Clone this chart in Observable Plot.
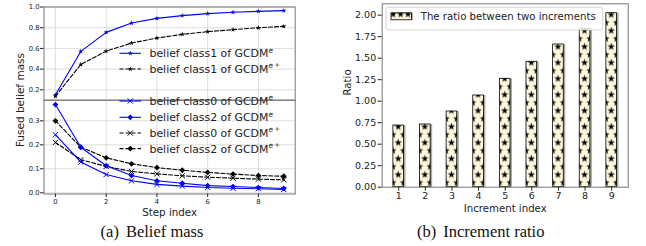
<!DOCTYPE html>
<html><head><meta charset="utf-8">
<script src="https://cdn.jsdelivr.net/npm/d3@7"></script>
<script src="https://cdn.jsdelivr.net/npm/@observablehq/plot@0.6"></script>
<style>
body{margin:0;background:#fff;}
#wrap{position:relative;width:646px;height:246px;overflow:hidden;font-family:"DejaVu Sans",sans-serif;}
#wrap svg{position:absolute;max-width:none;}
</style></head><body>
<div id="wrap"></div>
<script>
// ---- data: (a) Belief mass ----
const steps = [0, 1, 2, 3, 4, 5, 6, 7, 8, 9];
const class1E  = [0.152, 0.571, 0.755, 0.845, 0.890, 0.917, 0.936, 0.949, 0.958, 0.965];
const class1EP = [0.138, 0.445, 0.574, 0.652, 0.700, 0.736, 0.762, 0.781, 0.800, 0.813];
const class0E  = [0.242, 0.128, 0.076, 0.050, 0.035, 0.028, 0.022, 0.019, 0.017, 0.014];
const class2E  = [0.368, 0.190, 0.113, 0.072, 0.050, 0.040, 0.030, 0.026, 0.022, 0.018];
const class0EP = [0.210, 0.138, 0.110, 0.089, 0.079, 0.071, 0.065, 0.061, 0.057, 0.054];
const class2EP = [0.300, 0.190, 0.146, 0.121, 0.105, 0.094, 0.085, 0.078, 0.072, 0.069];
const topTicks = [0.2, 0.4, 0.6, 0.8, 1.0];
const bottomTicks = [0.0, 0.1, 0.2, 0.3];
const stepTicks = [0, 2, 4, 6, 8];

// ---- data: (b) Increment ratio ----
const incIndex = [1, 2, 3, 4, 5, 6, 7, 8, 9];
const ratios = [0.717, 0.729, 0.880, 1.066, 1.260, 1.458, 1.659, 1.842, 2.023];
const ratioTicks = [0, 0.25, 0.5, 0.75, 1.0, 1.25, 1.5, 1.75, 2.0];

// ---- texts ----
const legendLabels = ["belief class1 of GCDM", "belief class1 of GCDM", "belief class0 of GCDM", "belief class2 of GCDM", "belief class0 of GCDM", "belief class2 of GCDM"];
const legendSups = ["e", "e+", "e", "e", "e+", "e+"];
const barLegend = "The ratio between two increments";

const BLUE = "#0000ff";
const rows = arr => steps.map((s, i) => ({step: s, v: arr[i]}));
const wrap = document.getElementById("wrap");
const baseStyle = {background: "transparent", overflow: "visible", fontFamily: "DejaVu Sans", color: "#222"};
const gridStyle = {stroke: "#d6d6d6", strokeOpacity: 1, strokeWidth: 0.8};
const SYM = {star: 1.6, times: 2.5, diamond2: 2.6};

function series(arr, color, dash, symbol) {
  const d = rows(arr);
  const marks = [Plot.line(d, {x: "step", y: "v", stroke: color, strokeWidth: 1.1, strokeDasharray: dash})];
  if (symbol === "times") marks.push(Plot.dot(d, {x: "step", y: "v", symbol, r: SYM[symbol], stroke: color, fill: "none", strokeWidth: 1}));
  else marks.push(Plot.dot(d, {x: "step", y: "v", symbol, r: SYM[symbol], fill: color, stroke: "none"}));
  return marks;
}

// top panel
const topPanel = Plot.plot({
  width: 300, height: 100,
  marginLeft: 43.5, marginRight: 5.3, marginTop: 6.5, marginBottom: 0.3,
  style: baseStyle,
  x: {domain: [-0.45, 9.45], axis: null},
  y: {domain: [0.1, 1.0], axis: null},
  marks: [
    Plot.gridX({ticks: stepTicks, ...gridStyle}),
    Plot.gridY({ticks: topTicks, ...gridStyle}),
    ...series(class1E, BLUE, null, "star"),
    ...series(class1EP, "black", "4,2", "star"),
    Plot.frame({stroke: "#777"}),
    Plot.axisY({ticks: topTicks, tickFormat: ".1f", tickSize: 3.5, tickPadding: 1, fontSize: 6.8, label: null})
  ]
});
topPanel.style.left = "0px"; topPanel.style.top = "0px";
wrap.appendChild(topPanel);

// bottom panel
const bottomPanel = Plot.plot({
  width: 300, height: 140,
  marginLeft: 43.5, marginRight: 5.3, marginTop: 9.7, marginBottom: 36.5,
  style: baseStyle,
  x: {domain: [-0.45, 9.45], axis: null},
  y: {domain: [-0.005, 0.386], axis: null},
  marks: [
    Plot.gridX({ticks: stepTicks, ...gridStyle}),
    Plot.gridY({ticks: bottomTicks, ...gridStyle}),
    ...series(class0EP, "black", "4,2", "times"),
    ...series(class2EP, "black", "4,2", "diamond2"),
    ...series(class0E, BLUE, null, "times"),
    ...series(class2E, BLUE, null, "diamond2"),
    Plot.frame({stroke: "#777"}),
    Plot.axisY({ticks: bottomTicks, tickFormat: ".1f", tickSize: 3.5, tickPadding: 1, fontSize: 6.8, label: null}),
    Plot.axisX({ticks: stepTicks, tickFormat: "d", tickSize: 3.5, tickPadding: 1.5, fontSize: 6.8, label: null}),
    Plot.text(["Step index"], {frameAnchor: "bottom", dy: 19.2, fontSize: 10.3, lineAnchor: "middle", fill: "#222"}),
    Plot.text(["Fused belief mass"], {frameAnchor: "left", rotate: -90, dx: -23.5, fontSize: 10.5, lineAnchor: "middle", fill: "#222"})
  ]
});
bottomPanel.style.left = "0px"; bottomPanel.style.top = "90px";
wrap.appendChild(bottomPanel);

// right bar chart
const barRows = incIndex.map((k, i) => ({k, v: ratios[i]}));
const barChart = Plot.plot({
  width: 316, height: 220,
  marginLeft: 51.7, marginRight: 18.3, marginTop: 3.3, marginBottom: 33.3,
  style: baseStyle,
  x: {domain: [0.38, 9.62], axis: null},
  y: {domain: [0, 2.132], axis: null},
  marks: [
    Plot.rectY(barRows, {x1: d => d.k - 0.2, x2: d => d.k + 0.2, y: "v", fill: "#a9a9a9", dx: 2}),
    Plot.rectY(barRows, {x1: d => d.k - 0.2, x2: d => d.k + 0.2, y: "v", fill: "url(#starHatch)", stroke: "black", strokeWidth: 0.8}),
    Plot.frame({stroke: "#777"}),
    Plot.axisY({ticks: ratioTicks, tickFormat: ".2f", tickSize: 4, tickPadding: 2, fontSize: 9.5, label: null}),
    Plot.axisX({ticks: incIndex, tickFormat: "d", tickSize: 4, tickPadding: 1.5, fontSize: 9.5, label: null}),
    Plot.text(["Increment index"], {frameAnchor: "bottom", dy: 21.6, fontSize: 10.2, lineAnchor: "middle", fill: "#222"}),
    Plot.text(["Ratio"], {frameAnchor: "left", rotate: -90, dx: -34.7, fontSize: 10.2, lineAnchor: "middle", fill: "#222"})
  ]
});
barChart.style.left = "330px"; barChart.style.top = "0px";
wrap.appendChild(barChart);

// star hatch pattern aligned with the bar scale
const sx = barChart.scale("x"), sy = barChart.scale("y");
const period = sx.apply(2) - sx.apply(1);
const bw = sx.apply(1.2) - sx.apply(0.8);
const starPath = d3.symbol(d3.symbolStar, 17)();
const rs = d3.select(barChart);
const defs = rs.insert("defs", ":first-child");
const pat = defs.append("pattern").attr("id", "starHatch").attr("patternUnits", "userSpaceOnUse")
  .attr("x", sx.apply(0.8)).attr("y", sy.apply(0)).attr("width", period).attr("height", 16);
pat.append("rect").attr("width", period).attr("height", 16).attr("fill", "#fff8dc");
[[bw / 2, 4], [0, 12], [bw, 12]].forEach(([x, y]) => pat.append("path").attr("d", starPath).attr("transform", `translate(${x},${y})`).attr("fill", "black"));
const pat2 = defs.append("pattern").attr("id", "legHatch").attr("patternUnits", "userSpaceOnUse")
  .attr("x", 59.5).attr("y", 10.5).attr("width", 7.4).attr("height", 16);
pat2.append("rect").attr("width", 7.4).attr("height", 16).attr("fill", "#fff8dc");
pat2.append("path").attr("d", starPath).attr("transform", "translate(3.7,3.8)").attr("fill", "black");

// bar legend (inside axes)
const lg = rs.append("g").attr("text-anchor", "start");
lg.append("rect").attr("x", 56).attr("y", 7.3).attr("width", 216.7).attr("height", 22.7).attr("rx", 2.5)
  .attr("fill", "white").attr("fill-opacity", 0.8).attr("stroke", "#cccccc").attr("stroke-width", 0.8);
lg.append("rect").attr("x", 61).attr("y", 12.8).attr("width", 20.5).attr("height", 7).attr("fill", "#a9a9a9").attr("transform", "translate(1.5,0)");
lg.append("rect").attr("x", 61).attr("y", 12.8).attr("width", 20.5).attr("height", 7).attr("fill", "url(#legHatch)").attr("stroke", "black").attr("stroke-width", 0.8);
lg.append("text").attr("x", 90.7).attr("y", 16.5).attr("dy", "0.35em").attr("text-anchor", "start").attr("font-size", 10.2).attr("fill", "#222").text(barLegend);

// overlay: left legends + captions
const ov = d3.select(wrap).append("svg").attr("width", 646).attr("height", 246)
  .style("left", "0px").style("top", "0px").style("font-family", "DejaVu Sans");
const legColors = [BLUE, "black", BLUE, BLUE, "black", "black"];
const legDash = [null, "4,2", null, null, "4,2", "4,2"];
const legSym = ["star", "star", "times", "diamond2", "times", "diamond2"];
const legY = [53.3, 69, 101, 117.3, 133, 148.6];
const symType = {star: d3.symbolStar, times: d3.symbolTimes, diamond2: d3.symbolDiamond2};
legendLabels.forEach((lab, i) => {
  const g = ov.append("g").attr("transform", `translate(0,${legY[i]})`);
  g.append("line").attr("x1", 119.5).attr("x2", 141).attr("stroke", legColors[i]).attr("stroke-width", 1.1).attr("stroke-dasharray", legDash[i]);
  const r = SYM[legSym[i]];
  const p = g.append("path").attr("d", d3.symbol(symType[legSym[i]], Math.PI * r * r)()).attr("transform", "translate(130.3,0)");
  if (legSym[i] === "times") p.attr("fill", "none").attr("stroke", legColors[i]).attr("stroke-width", 1);
  else p.attr("fill", legColors[i]);
  const t = g.append("text").attr("x", 149.5).attr("y", 0).attr("dy", "0.36em").attr("font-size", 10.9).attr("fill", "#222");
  t.append("tspan").text(lab);
  const sup = legendSups[i];
  t.append("tspan").attr("dy", -4.6).attr("font-size", 7.5).text(sup[0]);
  if (sup.length > 1) t.append("tspan").attr("dx", 1.5).attr("dy", -1.2).attr("font-size", 6.4).text(sup.slice(1));
});
function caption(x, a, rest) {
  const t = ov.append("text").attr("x", x).attr("y", 237).attr("text-anchor", "middle")
    .attr("font-family", "Liberation Serif, serif").attr("font-size", 16.5).attr("fill", "#111");
  t.append("tspan").text(a);
  t.append("tspan").attr("dx", 7).text(rest);
}
caption(152, "(a)", "Belief mass");
caption(480.7, "(b)", "Increment ratio");
</script>
</body></html>
